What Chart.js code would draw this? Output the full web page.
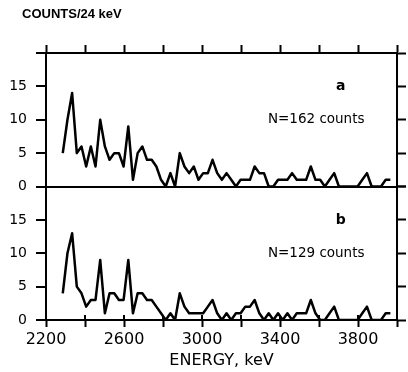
<!DOCTYPE html>
<html>
<head>
<meta charset="utf-8">
<script src="https://cdn.jsdelivr.net/npm/chart.js@4.4.1/dist/chart.umd.min.js"></script>
<style>
  html, body { margin: 0; padding: 0; background: #fff; }
</style>
</head>
<body>
<canvas id="myChart" width="408" height="372"></canvas>
<script>
// bin energies (keV), 24 keV per bin
const energies = [
  2286, 2310, 2334, 2358, 2382, 2406, 2430, 2454, 2478, 2502, 2526, 2550, 2574, 2598, 2622, 2646,
  2670, 2694, 2718, 2742, 2766, 2790, 2814, 2838, 2862, 2886, 2910, 2934, 2958, 2982, 3006, 3030,
  3054, 3078, 3102, 3126, 3150, 3174, 3198, 3222, 3246, 3270, 3294, 3318, 3342, 3366, 3390, 3414,
  3438, 3462, 3486, 3510, 3534, 3558, 3582, 3606, 3630, 3654, 3678, 3702, 3726, 3750, 3774, 3798,
  3822, 3846, 3870, 3894, 3918, 3942, 3966
]
// panel a
const countsA = [
  5, 10, 14, 5, 6, 3, 6, 3, 10, 6, 4, 5, 5, 3, 9, 1,
  5, 6, 4, 4, 3, 1, 0, 2, 0, 5, 3, 2, 3, 1, 2, 2,
  4, 2, 1, 2, 1, 0, 1, 1, 1, 3, 2, 2, 0, 0, 1, 1,
  1, 2, 1, 1, 1, 3, 1, 1, 0, 1, 2, 0, 0, 0, 0, 0,
  1, 2, 0, 0, 0, 1, 1
]
// panel b
const countsB = [
  4, 10, 13, 5, 4, 2, 3, 3, 9, 1, 4, 4, 3, 3, 9, 1,
  4, 4, 3, 3, 2, 1, 0, 1, 0, 4, 2, 1, 1, 1, 1, 2,
  3, 1, 0, 1, 0, 1, 1, 2, 2, 3, 1, 0, 1, 0, 1, 0,
  1, 0, 1, 1, 1, 3, 1, 0, 0, 1, 2, 0, 0, 0, 0, 0,
  1, 2, 0, 0, 0, 1, 1
]
const xTickLabels = [2200, 2600, 3000, 3400, 3800]
const yTickLabels = [0, 5, 10, 15]
const panelLetters = ['a', 'b']
const panelNotes = ['N=162 counts', 'N=129 counts']
const yAxisTitle = 'COUNTS/24 keV'

const canvas = document.getElementById('myChart')
const black = '#000'
const font = '"DejaVu Sans", sans-serif'

function points(counts) {
  return energies.map((e, i) => ({ x: e, y: counts[i] }))
}

function leftAxis(withZeroLine) {
  return {
    type: 'linear',
    position: 'left',
    stack: 'L',
    min: 0,
    max: 20,
    afterFit: s => { s.width = 40 },
    ticks: {
      stepSize: 5,
      color: black,
      padding: 9,
      font: { family: font, size: 14 },
      callback: v => yTickLabels.includes(v) ? v : ''
    },
    grid: {
      drawOnChartArea: withZeroLine,
      color: c => (withZeroLine && c.tick && c.tick.value === 0) ? black : 'rgba(0,0,0,0)',
      lineWidth: 2,
      tickColor: black,
      tickWidth: 2,
      tickLength: 10
    },
    border: { color: black, width: 2 }
  }
}

function rightAxis() {
  return {
    type: 'linear',
    position: 'right',
    stack: 'R',
    min: 0,
    max: 20,
    ticks: { stepSize: 5, display: false },
    grid: { drawOnChartArea: false, tickColor: black, tickWidth: 2, tickLength: 9 },
    border: { color: black, width: 2 }
  }
}

// text labels (axis heading, panel letters, counts) + upper halves of the energy ticks
const panelText = {
  id: 'panelText',
  afterDraw(chart) {
    const { ctx, scales } = chart
    const x = scales.x
    ctx.save()
    ctx.fillStyle = black
    ctx.textBaseline = 'middle'
    ctx.textAlign = 'left'
    ctx.font = 'bold 13px "Liberation Sans", Arial, sans-serif'
    ctx.fillText(yAxisTitle, 22, 14)
    ;['yA', 'yB'].forEach((id, i) => {
      const y = scales[id]
      ctx.textAlign = 'center'
      ctx.font = 'bold 14px ' + font
      ctx.fillText(panelLetters[i], x.getPixelForValue(3712), y.getPixelForValue(15))
      ctx.textAlign = 'left'
      ctx.font = '13.5px ' + font
      ctx.fillText(panelNotes[i], x.getPixelForValue(3338), y.getPixelForValue(10))
    })
    ctx.strokeStyle = black
    ctx.lineWidth = 2
    x.ticks.forEach(t => {
      const px = x.getPixelForValue(t.value)
      ctx.beginPath()
      ctx.moveTo(px, x.top)
      ctx.lineTo(px, x.top - 5)
      ctx.stroke()
    })
    ctx.restore()
  }
}

const config = {
  type: 'line',
  data: {
    datasets: [{
      label: 'a',
      data: points(countsA),
      yAxisID: 'yA',
      borderColor: black,
      borderWidth: 2.5,
      borderJoinStyle: 'round',
      pointRadius: 0,
      tension: 0
    }, {
      label: 'b',
      data: points(countsB),
      yAxisID: 'yB',
      borderColor: black,
      borderWidth: 2.5,
      borderJoinStyle: 'round',
      pointRadius: 0,
      tension: 0
    }]
  },
  options: {
    responsive: false,
    animation: false,
    devicePixelRatio: 1,
    layout: { padding: { left: 6, right: 2, top: 0, bottom: 0 } },
    plugins: {
      legend: { display: false },
      tooltip: { enabled: false },
      title: { display: false }
    },
    scales: {
      x: {
        type: 'linear',
        position: 'bottom',
        min: 2200,
        max: 4000,
        afterFit: s => { s.height = 52 },
        ticks: {
          stepSize: 200,
          autoSkip: false,
          maxRotation: 0,
          color: black,
          padding: 3,
          font: { family: font, size: 16 },
          callback: v => xTickLabels.includes(v) ? v : ''
        },
        grid: { drawOnChartArea: false, tickColor: black, tickWidth: 2, tickLength: 7 },
        border: { color: black, width: 2 },
        title: {
          display: true,
          text: 'ENERGY, keV',
          color: black,
          font: { family: font, size: 16 },
          padding: { top: 0, bottom: 2 }
        }
      },
      xTop: {
        type: 'linear',
        position: 'top',
        min: 2200,
        max: 4000,
        afterFit: s => { s.height = 53 },
        ticks: { stepSize: 200, display: false },
        grid: { drawOnChartArea: false, tickColor: black, tickWidth: 2, tickLength: 8 },
        border: { color: black, width: 2 }
      },
      yB: leftAxis(false),
      yA: leftAxis(true),
      yBr: rightAxis(),
      yAr: rightAxis()
    }
  },
  plugins: [panelText]
}

new Chart(canvas, config)
</script>
</body>
</html>
